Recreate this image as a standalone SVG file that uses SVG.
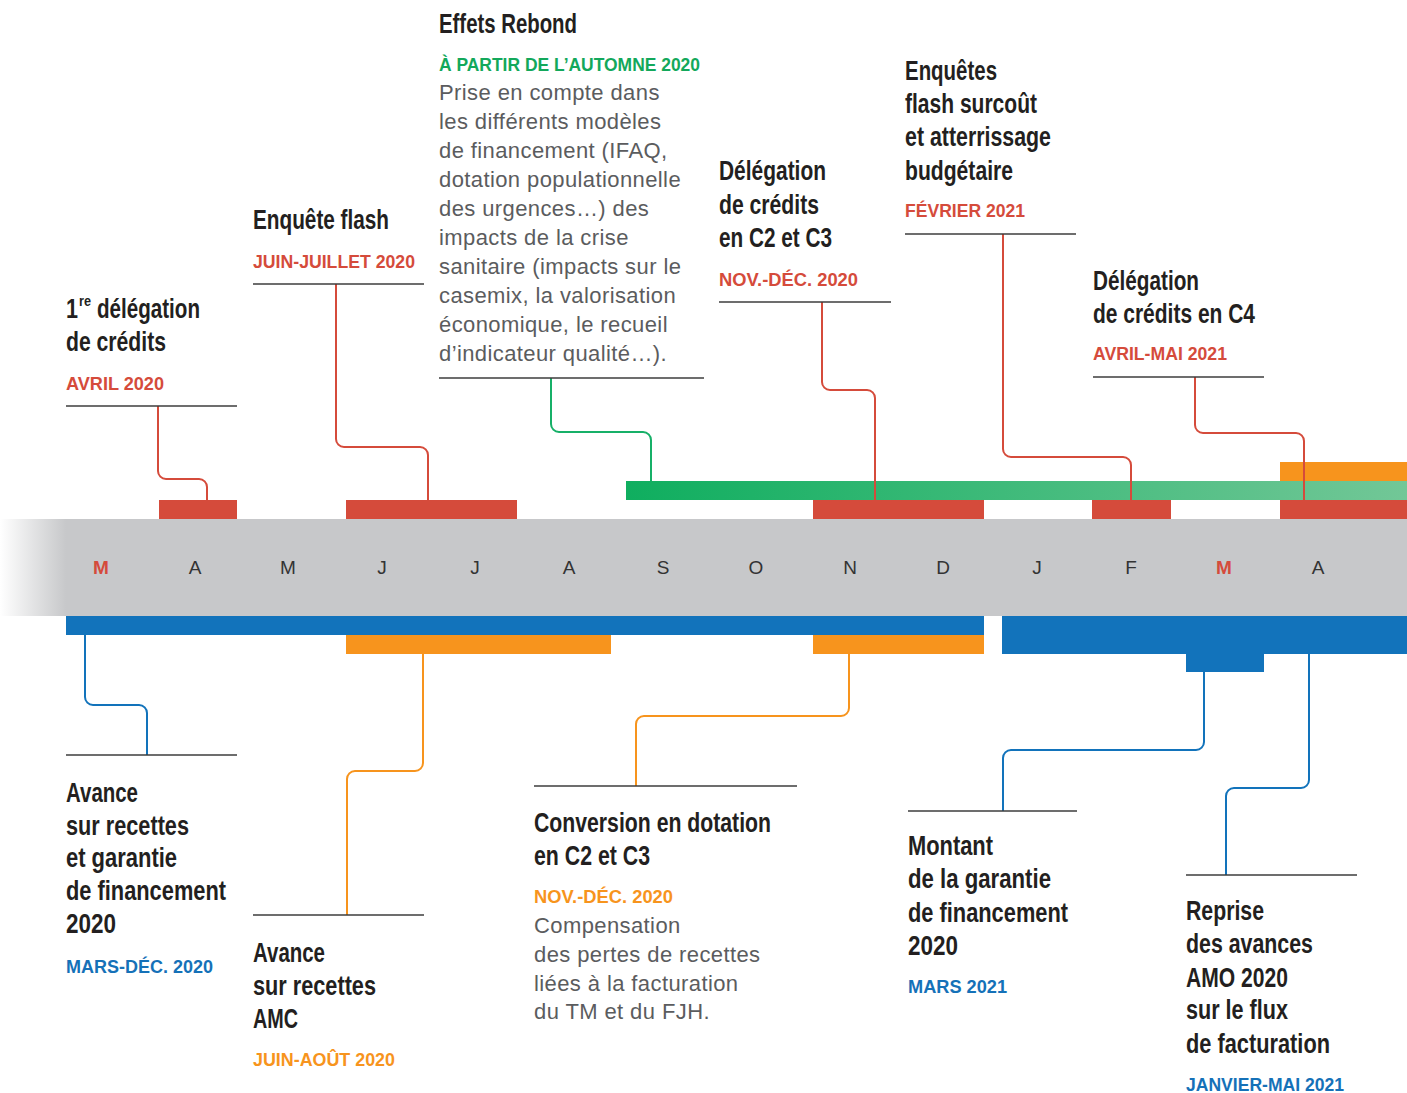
<svg xmlns="http://www.w3.org/2000/svg" width="1407" height="1093" viewBox="0 0 1407 1093">
<defs>
<linearGradient id="fade" x1="0" y1="0" x2="66" y2="0" gradientUnits="userSpaceOnUse">
<stop offset="0" stop-color="#c7c8ca" stop-opacity="0"/>
<stop offset="1" stop-color="#c7c8ca" stop-opacity="1"/>
</linearGradient>
<linearGradient id="greenGrad" x1="626" y1="0" x2="1407" y2="0" gradientUnits="userSpaceOnUse">
<stop offset="0" stop-color="#0fae5f"/>
<stop offset="1" stop-color="#72c797"/>
</linearGradient>
<style>
.t{font-family:"Liberation Sans Narrow","Liberation Sans",Arial,sans-serif;font-weight:bold;font-size:28px;fill:#231f20}
.sup{font-family:"Liberation Sans Narrow","Liberation Sans",Arial,sans-serif;font-weight:bold;font-size:14px;fill:#231f20}
.d{font-family:"Liberation Sans",Arial,sans-serif;font-weight:bold;font-size:18px}
.b{font-family:"Liberation Sans",Arial,sans-serif;font-size:22px;fill:#5b5c5e;letter-spacing:0.4px}
.red{fill:#d54b3b}.grn{fill:#13a85b}.org{fill:#f7941d}.blu{fill:#1571b8}
.m{font-family:"Liberation Sans Narrow","Liberation Sans",Arial,sans-serif;font-size:19px;fill:#333;text-anchor:middle}
.mr{fill:#d54b3b;font-weight:bold}
.ul{stroke:#3d3d3d;stroke-width:1.5;fill:none}
.c{fill:none;stroke-width:2}
.cr{stroke:#d54b3b}.cg{stroke:#17b068}.co{stroke:#f7941d}.cb{stroke:#1273bb}
</style>
</defs>
<rect width="1407" height="1093" fill="#ffffff"/>
<g id="timeline">
<rect x="0" y="519" width="66" height="97" fill="url(#fade)"/>
<rect x="66" y="519" width="1341" height="97" fill="#c7c8ca"/>
<text class="m mr" x="101" y="574">M</text>
<text class="m" x="195" y="574">A</text>
<text class="m" x="288" y="574">M</text>
<text class="m" x="382" y="574">J</text>
<text class="m" x="475" y="574">J</text>
<text class="m" x="569" y="574">A</text>
<text class="m" x="663" y="574">S</text>
<text class="m" x="756" y="574">O</text>
<text class="m" x="850" y="574">N</text>
<text class="m" x="943" y="574">D</text>
<text class="m" x="1037" y="574">J</text>
<text class="m" x="1131" y="574">F</text>
<text class="m mr" x="1224" y="574">M</text>
<text class="m" x="1318" y="574">A</text>
</g>
<g id="bars">
<rect x="1280" y="462" width="127" height="19" fill="#f7941d"/>
<rect x="626" y="481" width="781" height="19" fill="url(#greenGrad)"/>
<g fill="#d54b3b">
<rect x="159" y="500" width="78" height="19"/>
<rect x="346" y="500" width="171" height="19"/>
<rect x="813" y="500" width="171" height="19"/>
<rect x="1092" y="500" width="79" height="19"/>
<rect x="1280" y="500" width="127" height="19"/>
</g>
<g fill="#1273bb">
<rect x="66" y="616" width="918" height="19"/>
<rect x="1002" y="616" width="405" height="38"/>
<rect x="1186" y="654" width="78" height="18"/>
</g>
<g fill="#f7941d">
<rect x="346" y="635" width="265" height="19"/>
<rect x="813" y="635" width="171" height="19"/>
</g>
</g>
<g id="connectors">
<path class="c cr" d="M158 406 V471 A8 8 0 0 0 166 479 H199 A8 8 0 0 1 207 487 V500"/>
<path class="c cr" d="M336 284 V439 A8 8 0 0 0 344 447 H420 A8 8 0 0 1 428 455 V500"/>
<path class="c cg" d="M551 378 V424 A8 8 0 0 0 559 432 H643 A8 8 0 0 1 651 440 V481"/>
<path class="c cr" d="M822 302 V382 A8 8 0 0 0 830 390 H867 A8 8 0 0 1 875 398 V500"/>
<path class="c cr" d="M1003 234 V449 A8 8 0 0 0 1011 457 H1123 A8 8 0 0 1 1131 465 V500"/>
<path class="c cr" d="M1195 377 V425 A8 8 0 0 0 1203 433 H1296 A8 8 0 0 1 1304 441 V500"/>
<path class="c cb" d="M85 635 V697 A8 8 0 0 0 93 705 H139 A8 8 0 0 1 147 713 V755"/>
<path class="c co" d="M423 654 V763 A8 8 0 0 1 415 771 H355 A8 8 0 0 0 347 779 V915"/>
<path class="c co" d="M849 654 V708 A8 8 0 0 1 841 716 H644 A8 8 0 0 0 636 724 V786"/>
<path class="c cb" d="M1204 672 V742 A8 8 0 0 1 1196 750 H1011 A8 8 0 0 0 1003 758 V811"/>
<path class="c cb" d="M1309 654 V780 A8 8 0 0 1 1301 788 H1234 A8 8 0 0 0 1226 796 V875"/>
</g>
<g id="n1">
<text class="t" x="66" y="318" textLength="12" lengthAdjust="spacingAndGlyphs">1</text>
<text class="sup" x="79" y="306" textLength="12" lengthAdjust="spacingAndGlyphs">re</text>
<text class="t" x="97" y="318" textLength="103" lengthAdjust="spacingAndGlyphs">délégation</text>
<text class="t" x="66" y="351" textLength="100" lengthAdjust="spacingAndGlyphs">de crédits</text>
<text class="d red" x="66" y="390" textLength="98" lengthAdjust="spacingAndGlyphs">AVRIL 2020</text>
<line class="ul" x1="66" y1="406" x2="237" y2="406"/>
</g>
<g id="n2">
<text class="t" x="253" y="229" textLength="136" lengthAdjust="spacingAndGlyphs">Enquête flash</text>
<text class="d red" x="253" y="268" textLength="162" lengthAdjust="spacingAndGlyphs">JUIN-JUILLET 2020</text>
<line class="ul" x1="253" y1="284" x2="424" y2="284"/>
</g>
<g id="n3">
<text class="t" x="439" y="33" textLength="138" lengthAdjust="spacingAndGlyphs">Effets Rebond</text>
<text class="d grn" x="439" y="71" textLength="261" lengthAdjust="spacingAndGlyphs">À PARTIR DE L’AUTOMNE 2020</text>
<text class="b" x="439" y="100">Prise en compte dans</text>
<text class="b" x="439" y="129">les différents modèles</text>
<text class="b" x="439" y="158">de financement (IFAQ,</text>
<text class="b" x="439" y="187">dotation populationnelle</text>
<text class="b" x="439" y="216">des urgences…) des</text>
<text class="b" x="439" y="245">impacts de la crise</text>
<text class="b" x="439" y="274">sanitaire (impacts sur le</text>
<text class="b" x="439" y="303">casemix, la valorisation</text>
<text class="b" x="439" y="332">économique, le recueil</text>
<text class="b" x="439" y="361">d’indicateur qualité…).</text>
<line class="ul" x1="439" y1="378" x2="704" y2="378"/>
</g>
<g id="n4">
<text class="t" x="719" y="180" textLength="107" lengthAdjust="spacingAndGlyphs">Délégation</text>
<text class="t" x="719" y="214" textLength="100" lengthAdjust="spacingAndGlyphs">de crédits</text>
<text class="t" x="719" y="247" textLength="113" lengthAdjust="spacingAndGlyphs">en C2 et C3</text>
<text class="d red" x="719" y="286" textLength="139" lengthAdjust="spacingAndGlyphs">NOV.-DÉC. 2020</text>
<line class="ul" x1="719" y1="302" x2="891" y2="302"/>
</g>
<g id="n5">
<text class="t" x="905" y="80" textLength="92" lengthAdjust="spacingAndGlyphs">Enquêtes</text>
<text class="t" x="905" y="113" textLength="132" lengthAdjust="spacingAndGlyphs">flash surcoût</text>
<text class="t" x="905" y="146" textLength="146" lengthAdjust="spacingAndGlyphs">et atterrissage</text>
<text class="t" x="905" y="180" textLength="108" lengthAdjust="spacingAndGlyphs">budgétaire</text>
<text class="d red" x="905" y="217" textLength="120" lengthAdjust="spacingAndGlyphs">FÉVRIER 2021</text>
<line class="ul" x1="905" y1="234" x2="1076" y2="234"/>
</g>
<g id="n6">
<text class="t" x="1093" y="290" textLength="106" lengthAdjust="spacingAndGlyphs">Délégation</text>
<text class="t" x="1093" y="323" textLength="162" lengthAdjust="spacingAndGlyphs">de crédits en C4</text>
<text class="d red" x="1093" y="360" textLength="134" lengthAdjust="spacingAndGlyphs">AVRIL-MAI 2021</text>
<line class="ul" x1="1093" y1="377" x2="1264" y2="377"/>
</g>
<g id="n7">
<line class="ul" x1="66" y1="755" x2="237" y2="755"/>
<text class="t" x="66" y="802" textLength="72" lengthAdjust="spacingAndGlyphs">Avance</text>
<text class="t" x="66" y="835" textLength="123" lengthAdjust="spacingAndGlyphs">sur recettes</text>
<text class="t" x="66" y="867" textLength="111" lengthAdjust="spacingAndGlyphs">et garantie</text>
<text class="t" x="66" y="900" textLength="160" lengthAdjust="spacingAndGlyphs">de financement</text>
<text class="t" x="66" y="933" textLength="50" lengthAdjust="spacingAndGlyphs">2020</text>
<text class="d blu" x="66" y="973" textLength="147" lengthAdjust="spacingAndGlyphs">MARS-DÉC. 2020</text>
</g>
<g id="n8">
<line class="ul" x1="253" y1="915" x2="424" y2="915"/>
<text class="t" x="253" y="962" textLength="72" lengthAdjust="spacingAndGlyphs">Avance</text>
<text class="t" x="253" y="995" textLength="123" lengthAdjust="spacingAndGlyphs">sur recettes</text>
<text class="t" x="253" y="1028" textLength="45" lengthAdjust="spacingAndGlyphs">AMC</text>
<text class="d org" x="253" y="1066" textLength="142" lengthAdjust="spacingAndGlyphs">JUIN-AOÛT 2020</text>
</g>
<g id="n9">
<line class="ul" x1="534" y1="786" x2="797" y2="786"/>
<text class="t" x="534" y="832" textLength="237" lengthAdjust="spacingAndGlyphs">Conversion en dotation</text>
<text class="t" x="534" y="865" textLength="116" lengthAdjust="spacingAndGlyphs">en C2 et C3</text>
<text class="d org" x="534" y="903" textLength="139" lengthAdjust="spacingAndGlyphs">NOV.-DÉC. 2020</text>
<text class="b" x="534" y="933">Compensation</text>
<text class="b" x="534" y="962">des pertes de recettes</text>
<text class="b" x="534" y="991">liées à la facturation</text>
<text class="b" x="534" y="1019">du TM et du FJH.</text>
</g>
<g id="n10">
<line class="ul" x1="908" y1="811" x2="1077" y2="811"/>
<text class="t" x="908" y="855" textLength="85" lengthAdjust="spacingAndGlyphs">Montant</text>
<text class="t" x="908" y="888" textLength="143" lengthAdjust="spacingAndGlyphs">de la garantie</text>
<text class="t" x="908" y="922" textLength="160" lengthAdjust="spacingAndGlyphs">de financement</text>
<text class="t" x="908" y="955" textLength="50" lengthAdjust="spacingAndGlyphs">2020</text>
<text class="d blu" x="908" y="993" textLength="99" lengthAdjust="spacingAndGlyphs">MARS 2021</text>
</g>
<g id="n11">
<line class="ul" x1="1186" y1="875" x2="1357" y2="875"/>
<text class="t" x="1186" y="920" textLength="78" lengthAdjust="spacingAndGlyphs">Reprise</text>
<text class="t" x="1186" y="953" textLength="127" lengthAdjust="spacingAndGlyphs">des avances</text>
<text class="t" x="1186" y="987" textLength="102" lengthAdjust="spacingAndGlyphs">AMO 2020</text>
<text class="t" x="1186" y="1019" textLength="102" lengthAdjust="spacingAndGlyphs">sur le flux</text>
<text class="t" x="1186" y="1053" textLength="144" lengthAdjust="spacingAndGlyphs">de facturation</text>
<text class="d blu" x="1186" y="1091" textLength="158" lengthAdjust="spacingAndGlyphs">JANVIER-MAI 2021</text>
</g>
</svg>
